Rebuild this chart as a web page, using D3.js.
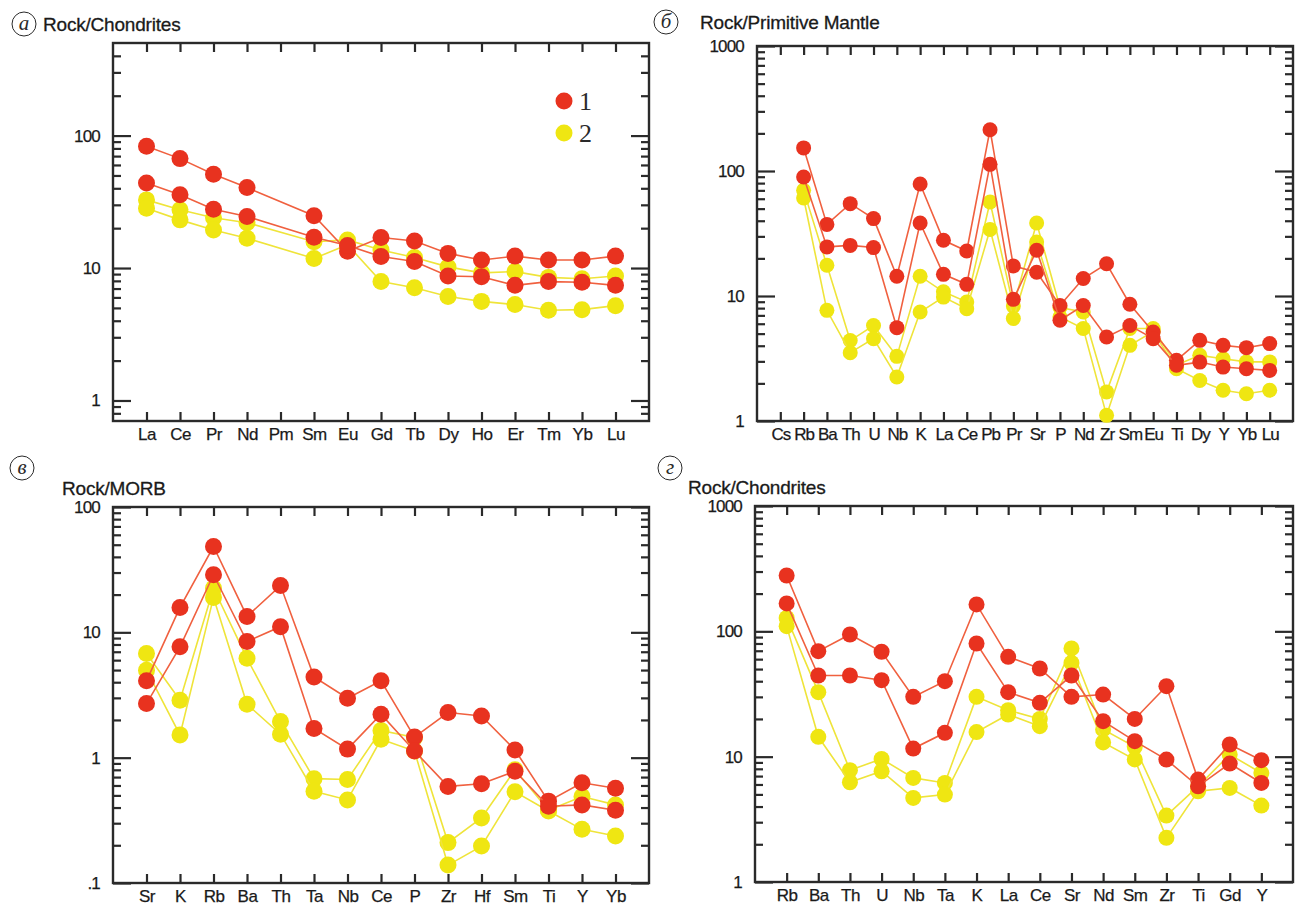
<!DOCTYPE html>
<html>
<head>
<meta charset="utf-8">
<script src="https://cdn.jsdelivr.net/npm/d3@7"></script>
<style>
  body { margin: 0; background: #fff; }
  svg { display: block; }
</style>
</head>
<body>
<svg id="chart" width="1300" height="911"></svg>
<script>
// panel а : Rock/Chondrites (REE)
var catsA = ["La", "Ce", "Pr", "Nd", "Pm", "Sm", "Eu", "Gd", "Tb", "Dy", "Ho", "Er", "Tm", "Yb", "Lu"];
var aRed1 = [83, 67, 51, 40.5, null, 24.8, 13.4, 17, 16, 12.9, 11.5, 12.3, 11.5, 11.5, 12.3];
var aRed2 = [43.8, 35.7, 27.8, 24.5, null, 17.1, 14.8, 12.2, 11.2, 8.7, 8.6, 7.4, 7.9, 7.8, 7.4];
var aYel1 = [32.7, 27.5, 24, 22, null, 15.8, 16.3, 13.7, 12, 10.2, 9.2, 9.4, 8.5, 8.3, 8.7];
var aYel2 = [28.3, 23.1, 19.4, 16.8, null, 11.8, 15, 7.9, 7.1, 6.1, 5.6, 5.3, 4.8, 4.85, 5.2];

// panel б : Rock/Primitive Mantle
var catsB = ["Cs", "Rb", "Ba", "Th", "U", "Nb", "K", "La", "Ce", "Pb", "Pr", "Sr", "P", "Nd", "Zr", "Sm", "Eu", "Ti", "Dy", "Y", "Yb", "Lu"];
var bRed1 = [null, 153, 37.4, 54.8, 41.6, 14.4, 78.7, 27.9, 22.9, 214, 17.4, 15.5, 8.4, 13.8, 18.1, 8.6, 5.15, 3.06, 4.42, 4.03, 3.86, 4.16];
var bRed2 = [null, 89.5, 24.7, 25.4, 24.4, 5.58, 38.4, 14.9, 12.4, 113, 9.4, 23.2, 6.4, 8.4, 4.7, 5.8, 4.56, 2.79, 2.96, 2.7, 2.62, 2.54];
var bYel1 = [null, 70, 17.6, 4.4, 5.8, 3.29, 14.4, 10.8, 8.96, 56.5, 8.3, 38.4, 8.1, 7.45, 1.71, 5.5, 5.5, 2.8, 3.35, 3.15, 2.97, 2.97];
var bYel2 = [null, 60.8, 7.68, 3.52, 4.56, 2.25, 7.45, 9.8, 7.9, 34, 6.6, 27, 6.8, 5.5, 1.11, 4.03, 5.2, 2.62, 2.11, 1.76, 1.65, 1.76];

// panel в : Rock/MORB
var catsC = ["Sr", "K", "Rb", "Ba", "Th", "Ta", "Nb", "Ce", "P", "Zr", "Hf", "Sm", "Ti", "Y", "Yb"];
var cRed1 = [4.1, 15.8, 48.4, 13.4, 23.6, 4.41, 2.98, 4.1, 1.46, 2.29, 2.15, 1.15, 0.45, 0.63, 0.57];
var cRed2 = [2.7, 7.66, 28.8, 8.45, 11.1, 1.71, 1.17, 2.22, 1.13, 0.59, 0.62, 0.78, 0.41, 0.42, 0.38];
var cYel1 = [6.77, 2.87, 22.5, 6.2, 1.94, 0.68, 0.67, 1.65, 1.45, 0.21, 0.33, 0.8, 0.38, 0.49, 0.42];
var cYel2 = [4.99, 1.52, 19, 2.67, 1.54, 0.54, 0.46, 1.4, 1.13, 0.139, 0.197, 0.535, 0.375, 0.268, 0.237];

// panel г : Rock/Chondrites (spider)
var catsD = ["Rb", "Ba", "Th", "U", "Nb", "Ta", "K", "La", "Ce", "Sr", "Nd", "Sm", "Zr", "Ti", "Gd", "Y"];
var dRed1 = [279, 69.5, 94.4, 68.7, 30, 40, 164, 62.6, 50.5, 30, 31.3, 20, 36.5, 6.56, 12.5, 9.37];
var dRed2 = [167, 44.4, 44.4, 40.8, 11.6, 15.5, 80, 32.7, 26.9, 44.4, 19.2, 13.3, 9.48, 5.8, 8.81, 6.17];
var dYel1 = [128, 32.7, 7.8, 9.6, 6.77, 6.17, 30, 23.5, 20, 73, 16.5, 12, 3.39, 5.8, 10.4, 7.4];
var dYel2 = [110, 14.4, 6.25, 7.65, 4.69, 4.98, 15.7, 21.7, 17.5, 56, 13, 9.5, 2.25, 5.3, 5.63, 4.07];

var legendLabels = ["1", "2"];

var RED = "#e8321f", RED_LINE = "#f0603f";
var YEL = "#efe612", YEL_LINE = "#efe43a";
var INK = "#2a2a2a";
var SANS = "'Liberation Sans', Arial, sans-serif";
var SERIF = "'Liberation Serif', 'Times New Roman', serif";

var svg = d3.select("#chart");
svg.append("rect").attr("width", 1300).attr("height", 911).attr("fill", "#fff");

function fmtTick(v) {
  return v < 1 ? String(v).replace(/^0/, "") : String(v);
}

function drawPanel(p) {
  var n = p.cats.length;
  var x = d3.scaleLinear().domain([-1, n]).range([p.left, p.right]);
  var y = d3.scaleLog().domain([p.ymin, p.ymax]).range([p.bottom, p.top]);
  var g = svg.append("g");

  var majors = p.majors;
  var minors = y.ticks().filter(function(v) {
    var l = Math.log10(v);
    return Math.abs(l - Math.round(l)) > 1e-6 && y(v) < p.bottom - 2 && y(v) > p.top + 2;
  });

  function style(sel, ls) {
    sel.select(".domain").remove();
    sel.selectAll("line").attr("stroke", INK).attr("stroke-width", 2.2);
    sel.selectAll("text")
      .attr("font-family", SANS)
      .attr("font-size", 17)
      .attr("fill", "#1a1a1a")
      .attr("stroke", "#1a1a1a").attr("stroke-width", 0.25)
      .attr("letter-spacing", ls);
  }

  // left axis
  g.append("g").attr("transform", "translate(" + p.left + ",0)")
    .call(d3.axisLeft(y).tickValues(minors).tickSize(-8).tickFormat(""))
    .call(style, 0);
  g.append("g").attr("transform", "translate(" + p.left + ",0)")
    .call(d3.axisLeft(y).tickValues(majors).tickSize(-18).tickPadding(13).tickFormat(fmtTick))
    .call(style, -0.8);
  // right axis
  g.append("g").attr("transform", "translate(" + p.right + ",0)")
    .call(d3.axisRight(y).tickValues(minors).tickSize(-8).tickFormat(""))
    .call(style, 0);
  g.append("g").attr("transform", "translate(" + p.right + ",0)")
    .call(d3.axisRight(y).tickValues(majors).tickSize(-18).tickFormat(""))
    .call(style, 0);
  // bottom / top category ticks
  g.append("g").attr("transform", "translate(0," + p.bottom + ")")
    .call(d3.axisBottom(x).tickValues(d3.range(n)).tickSize(-9).tickPadding(7)
      .tickFormat(function(i) { return p.cats[i]; }))
    .call(style, p.ls);
  g.append("g").attr("transform", "translate(0," + p.top + ")")
    .call(d3.axisTop(x).tickValues(d3.range(n)).tickSize(-9).tickFormat(""))
    .call(style, 0);

  g.append("rect")
    .attr("x", p.left).attr("y", p.top)
    .attr("width", p.right - p.left).attr("height", p.bottom - p.top)
    .attr("fill", "none").attr("stroke", INK).attr("stroke-width", 2.4);

  var line = d3.line().x(function(d) { return x(d[0]); }).y(function(d) { return y(d[1]); });

  p.series.forEach(function(s) {
    var pts = s.vals.map(function(v, i) { return [i, v]; }).filter(function(d) { return d[1] != null; });
    g.append("path").datum(pts)
      .attr("d", line)
      .attr("fill", "none")
      .attr("stroke", s.line)
      .attr("stroke-width", 1.6);
    g.selectAll(null).data(pts).enter().append("circle")
      .attr("cx", function(d) { return x(d[0]); })
      .attr("cy", function(d) { return y(d[1]); })
      .attr("r", p.r)
      .attr("fill", s.fill);
  });

  // panel letter in circle
  svg.append("circle")
    .attr("cx", p.badge[0]).attr("cy", p.badge[1]).attr("r", 12)
    .attr("fill", "none").attr("stroke", INK).attr("stroke-width", 1);
  svg.append("text")
    .attr("x", p.badge[0]).attr("y", p.badge[1] + 6)
    .attr("text-anchor", "middle")
    .attr("font-family", SERIF)
    .attr("font-style", "italic")
    .attr("font-size", 21)
    .attr("fill", INK)
    .text(p.letter);

  svg.append("text")
    .attr("x", p.title[0]).attr("y", p.title[1])
    .attr("font-family", SANS)
    .attr("font-size", 19)
    .attr("letter-spacing", -0.2)
    .attr("fill", "#1a1a1a")
    .attr("stroke", "#1a1a1a").attr("stroke-width", 0.3)
    .text(p.titleText);

  return { x: x, y: y };
}

drawPanel({
  cats: catsA, left: 113, right: 649, top: 43, bottom: 421, ymin: 0.7, ymax: 500,
  majors: [1, 10, 100], r: 8.5, ls: -0.5,
  series: [
    { vals: aYel1, fill: YEL, line: YEL_LINE },
    { vals: aYel2, fill: YEL, line: YEL_LINE },
    { vals: aRed1, fill: RED, line: RED_LINE },
    { vals: aRed2, fill: RED, line: RED_LINE }
  ],
  badge: [24, 24], letter: "а", title: [43, 31], titleText: "Rock/Chondrites"
});

drawPanel({
  cats: catsB, left: 757, right: 1293, top: 46, bottom: 421, ymin: 1, ymax: 1000,
  majors: [1, 10, 100, 1000], r: 7.5, ls: -1,
  series: [
    { vals: bYel1, fill: YEL, line: YEL_LINE },
    { vals: bYel2, fill: YEL, line: YEL_LINE },
    { vals: bRed1, fill: RED, line: RED_LINE },
    { vals: bRed2, fill: RED, line: RED_LINE }
  ],
  badge: [666, 22], letter: "б", title: [700, 29], titleText: "Rock/Primitive Mantle"
});

drawPanel({
  cats: catsC, left: 113, right: 649, top: 507, bottom: 883, ymin: 0.1, ymax: 100,
  majors: [0.1, 1, 10, 100], r: 8.5, ls: -0.5,
  series: [
    { vals: cYel1, fill: YEL, line: YEL_LINE },
    { vals: cYel2, fill: YEL, line: YEL_LINE },
    { vals: cRed1, fill: RED, line: RED_LINE },
    { vals: cRed2, fill: RED, line: RED_LINE }
  ],
  badge: [22, 468], letter: "в", title: [62, 495], titleText: "Rock/MORB"
});

drawPanel({
  cats: catsD, left: 755, right: 1293, top: 506, bottom: 882, ymin: 1, ymax: 1000,
  majors: [1, 10, 100, 1000], r: 8, ls: -0.5,
  series: [
    { vals: dYel1, fill: YEL, line: YEL_LINE },
    { vals: dYel2, fill: YEL, line: YEL_LINE },
    { vals: dRed1, fill: RED, line: RED_LINE },
    { vals: dRed2, fill: RED, line: RED_LINE }
  ],
  badge: [670, 468], letter: "г", title: [688, 494], titleText: "Rock/Chondrites"
});

// legend in panel а
var legend = svg.append("g");
[RED, YEL].forEach(function(c, i) {
  legend.append("circle").attr("cx", 564).attr("cy", 101 + i * 32).attr("r", 8.5).attr("fill", c);
  legend.append("text")
    .attr("x", 579).attr("y", 110 + i * 32)
    .attr("font-family", SERIF)
    .attr("font-size", 26)
    .attr("fill", INK)
    .text(legendLabels[i]);
});
</script>
</body>
</html>
